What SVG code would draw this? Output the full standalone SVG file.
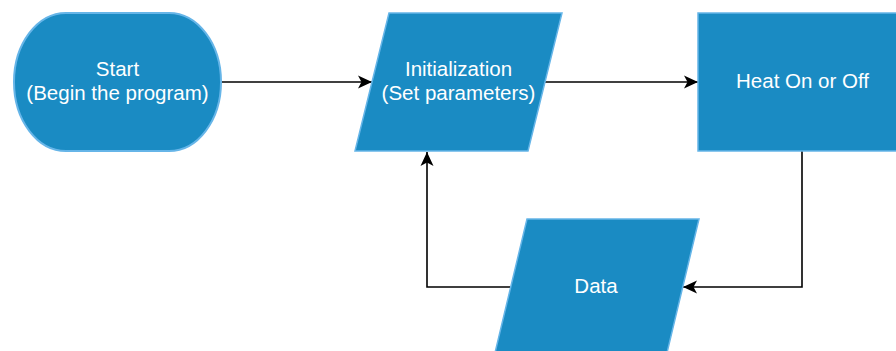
<svg xmlns="http://www.w3.org/2000/svg" width="896" height="351" viewBox="0 0 896 351">
  <style>
    .shape { fill: #1a8bc3; stroke: #66b5e8; stroke-width: 1.5; }
    .label { fill: #ffffff; font-family: "Liberation Sans", Arial, sans-serif; font-size: 20.5px; text-anchor: middle; }
    .edge { fill: none; stroke: #000000; stroke-width: 1.6; }
  </style>
  <defs>
    <marker id="arrow" viewBox="0 0 14 14" refX="14" refY="7" markerWidth="14" markerHeight="14" markerUnits="userSpaceOnUse" orient="auto">
      <path d="M14,7 L0,0.5 L3.5,7 L0,13.5 Z" fill="#000000"/>
    </marker>
  </defs>

  <rect width="896" height="351" fill="#ffffff"/>

  <!-- connectors -->
  <g id="connectors">
    <path class="edge" d="M221,82 L372,82" marker-end="url(#arrow)"/>
    <path class="edge" d="M545,82 L698,82" marker-end="url(#arrow)"/>
    <path class="edge" d="M802,151 L802,287 L683,287" marker-end="url(#arrow)"/>
    <path class="edge" d="M510,287 L427,287 L427,152" marker-end="url(#arrow)"/>
  </g>

  <!-- terminator -->
  <g id="start">
    <rect class="shape" x="14" y="13" width="207" height="138" rx="52" ry="69" style="stroke-width:2"/>
    <text class="label" x="117.5" y="76">Start</text>
    <text class="label" x="117.5" y="100">(Begin the program)</text>
  </g>

  <!-- input/output -->
  <g id="initialization">
    <polygon class="shape" points="389,13 562,13 528,151 355,151"/>
    <text class="label" x="458.5" y="76">Initialization</text>
    <text class="label" x="458.5" y="100">(Set parameters)</text>
  </g>

  <!-- process -->
  <g id="heat">
    <rect class="shape" x="698" y="13" width="208" height="138"/>
    <text class="label" x="802.5" y="88">Heat On or Off</text>
  </g>

  <!-- input/output -->
  <g id="data">
    <polygon class="shape" points="527,219 699,219 666,357 494,357"/>
    <text class="label" x="596" y="293">Data</text>
  </g>
</svg>
